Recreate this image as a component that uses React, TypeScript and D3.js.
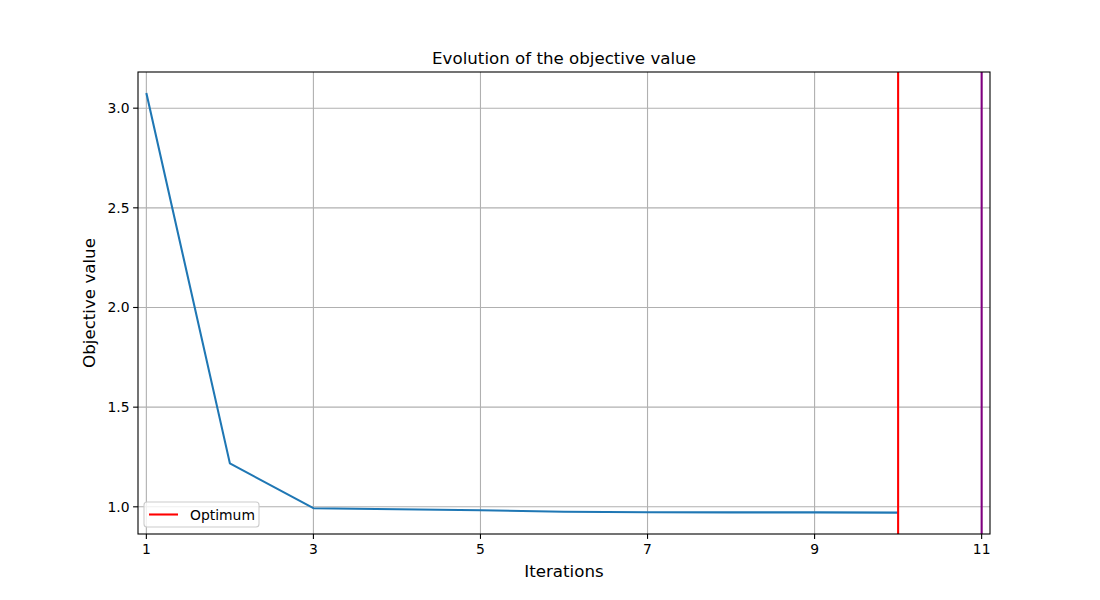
import React from "react";
import * as d3 from "d3";

const iterations = [1, 2, 3, 4, 5, 6, 7, 8, 9, 10];
const objective = [3.076, 1.218, 0.993, 0.988, 0.983, 0.975, 0.973, 0.972, 0.972, 0.971];
const xTicks = [1, 3, 5, 7, 9, 11];
const yTicks = [1.0, 1.5, 2.0, 2.5, 3.0];
const optimumIter = 10;
const finalIter = 11;

export default function App() {
  const W = 1100, H = 600;
  const left = 138, right = 990, top = 72, bottom = 534;
  const x = d3.scaleLinear().domain([0.9, 11.1]).range([left, right]);
  const y = d3.scaleLinear().domain([0.8636, 3.1815]).range([bottom, top]);
  const line = d3.line<number>().x((_, i) => x(iterations[i])).y((d) => y(d));
  const font = "DejaVu Sans, sans-serif";
  const tickFs = 13.9;
  const labelFs = 16.67;
  return (
    <svg width={W} height={H} style={{ position: "absolute", left: 0, top: 0, background: "#fff" }} fontFamily={font}>
      <rect x={0} y={0} width={W} height={H} fill="#fff" />
      {xTicks.map((t) => (
        <line key={"gx" + t} x1={x(t)} x2={x(t)} y1={top} y2={bottom} stroke="#b0b0b0" strokeWidth={1.1} />
      ))}
      {yTicks.map((t) => (
        <line key={"gy" + t} x1={left} x2={right} y1={y(t)} y2={y(t)} stroke="#b0b0b0" strokeWidth={1.1} />
      ))}
      <path d={line(objective) || ""} fill="none" stroke="#1f77b4" strokeWidth={2.08} strokeLinejoin="round" />
      <line x1={x(optimumIter)} x2={x(optimumIter)} y1={top} y2={bottom} stroke="red" strokeWidth={2.08} />
      <line x1={x(finalIter)} x2={x(finalIter)} y1={top} y2={bottom} stroke="purple" strokeWidth={2.08} />
      <rect x={left} y={top} width={right - left} height={bottom - top} fill="none" stroke="#000" strokeWidth={1.1} />
      {xTicks.map((t) => (
        <g key={"tx" + t}>
          <line x1={x(t)} x2={x(t)} y1={bottom} y2={bottom + 4.9} stroke="#000" strokeWidth={1.1} />
          <text x={x(t)} y={bottom + 20} textAnchor="middle" fontSize={tickFs} fill="#000">{t}</text>
        </g>
      ))}
      {yTicks.map((t) => (
        <g key={"ty" + t}>
          <line x1={left - 4.9} x2={left} y1={y(t)} y2={y(t)} stroke="#000" strokeWidth={1.1} />
          <text x={left - 8.5} y={y(t) + 5} textAnchor="end" fontSize={tickFs} fill="#000">{t.toFixed(1)}</text>
        </g>
      ))}
      <text x={(left + right) / 2} y={64} textAnchor="middle" fontSize={labelFs} fill="#000">Evolution of the objective value</text>
      <text x={(left + right) / 2} y={577} textAnchor="middle" fontSize={labelFs} fill="#000">Iterations</text>
      <text transform={`translate(95,${(top + bottom) / 2}) rotate(-90)`} textAnchor="middle" fontSize={labelFs} fill="#000">Objective value</text>
      <g>
        <rect x={144} y={502} width={115} height={25} rx={3} fill="#fff" fillOpacity={0.8} stroke="#cccccc" strokeWidth={1.1} />
        <line x1={149} x2={178} y1={514.5} y2={514.5} stroke="red" strokeWidth={2.08} />
        <text x={190} y={519.5} fontSize={tickFs} fill="#000">Optimum</text>
      </g>
    </svg>
  );
}
